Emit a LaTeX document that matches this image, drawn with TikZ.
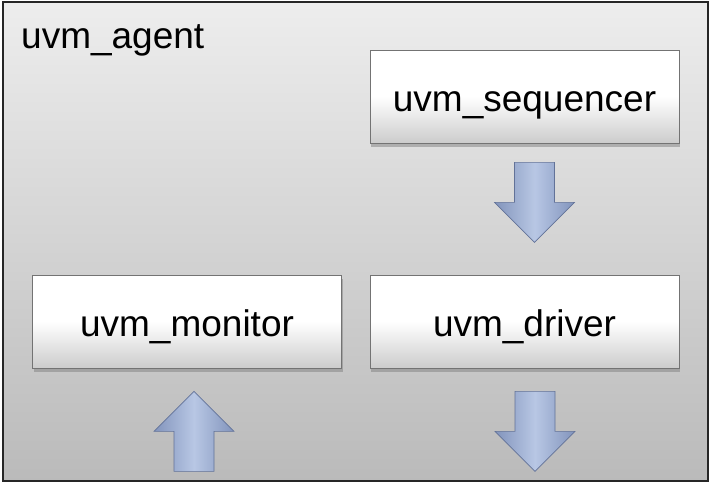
\documentclass[tikz,border=0pt]{standalone}
\usepackage{fontspec}
\setmainfont{Liberation Sans}
\usetikzlibrary{shadows}
\definecolor{arrowlight}{RGB}{184,199,228}
\definecolor{arrowdark}{RGB}{130,148,188}
\definecolor{arrowedge}{RGB}{98,114,152}
\tikzset{
  comp/.style={draw=black!55, line width=0.8pt, top color=white, bottom color=black!20, middle color=white,
    minimum width=309pt, minimum height=93pt, inner sep=0pt, text height=30pt, text depth=0pt,
    font=\fontsize{37}{44}\selectfont,
    drop shadow={shadow xshift=1pt, shadow yshift=-4pt, opacity=0.5}},
  blockarrow/.style={draw=arrowedge, line width=0.6pt, left color=arrowdark, right color=arrowdark, middle color=arrowlight},
  pics/downarr/.style={code={\path[blockarrow] (-20,0) -- (20,0) -- (20,40) -- (40,40) -- (0,80) -- (-40,40) -- (-20,40) -- cycle;}},
  pics/uparr/.style={code={\path[blockarrow] (0,0) -- (40,40) -- (20,40) -- (20,80) -- (-20,80) -- (-20,40) -- (-40,40) -- cycle;}}
}
\begin{document}
\begin{tikzpicture}[x=1pt, y=-1pt]
	\useasboundingbox (0,0) rectangle (710,483);
	% agent frame
	\draw[line width=1.6pt, draw=black!85, top color=black!7, bottom color=black!27] (3,2) rectangle (708,481);
	\node[anchor=base west, inner sep=0pt, font=\fontsize{37}{44}\selectfont] (agentlbl) at (21,48) {uvm\_agent};

	\node[comp] (seq) at (524.5,96.5) {uvm\_sequencer};
	\node[comp] (mon) at (187,321.5) {uvm\_monitor};
	\node[comp] (drv) at (524.5,321.5) {uvm\_driver};

	% block arrows
	\pic at ([xshift=10pt, yshift=-19pt]seq.south) {downarr};
	\pic at ([xshift=10.5pt, yshift=-23pt]drv.south) {downarr};
	\pic at ([xshift=7pt, yshift=-23pt]mon.south) {uparr};
\end{tikzpicture}
\end{document}
